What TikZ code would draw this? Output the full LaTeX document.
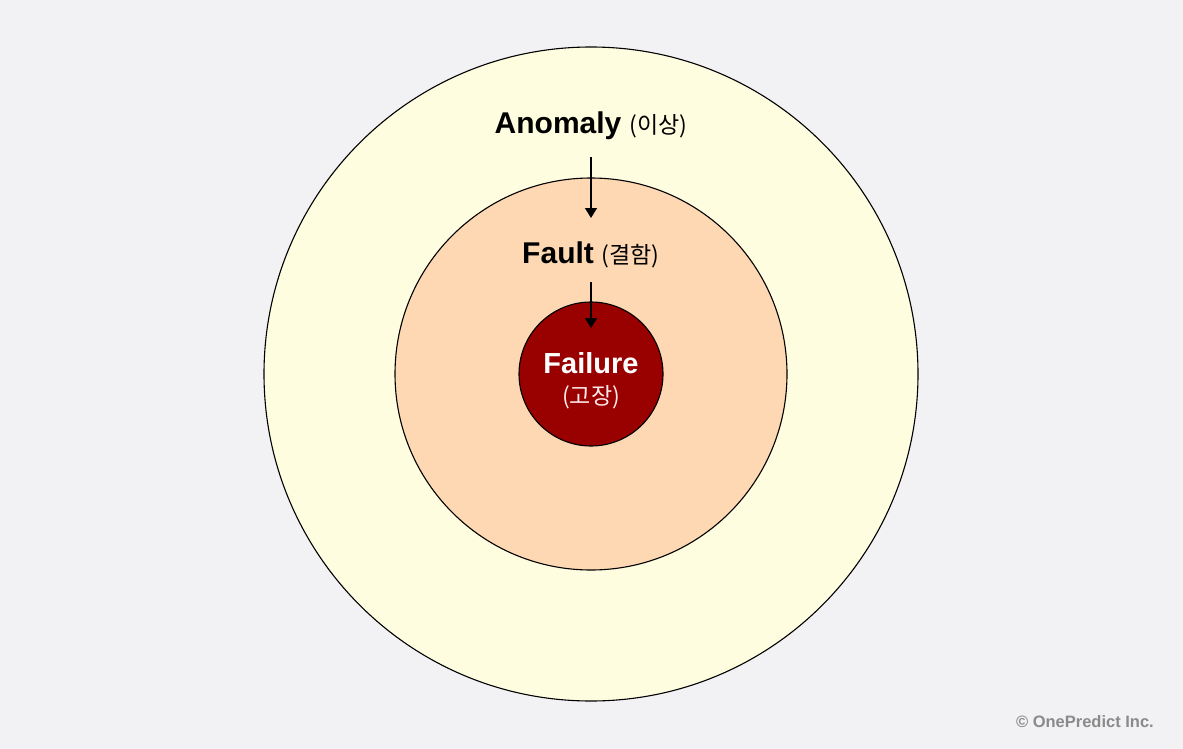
\documentclass[tikz,border=0pt]{standalone}
\usepackage{fontspec}
\setmainfont{Liberation Sans}
\newfontfamily\kr{Noto Sans CJK KR}
\usetikzlibrary{arrows.meta}
\definecolor{bgc}{HTML}{F2F2F4}
\definecolor{outerc}{HTML}{FFFDE0}
\definecolor{midc}{HTML}{FDD8B3}
\definecolor{innerc}{HTML}{990000}
\definecolor{copyc}{HTML}{8A8A8A}
\tikzset{
  ring/.style={circle, draw=black, line width=1.1pt, inner sep=0pt, outer sep=0pt},
  biglabel/.style={anchor=base, inner sep=0pt, font=\fontsize{30}{36}\selectfont\bfseries},
  krlabel/.style={font=\kr\fontsize{23}{27}\selectfont},
  flow/.style={line width=1.4pt, -{Triangle[width=12pt,length=10pt]}},
}
\begin{document}
\begin{tikzpicture}[x=1pt,y=-1pt]
\fill[bgc] (0,0) rectangle (1183,749);
\useasboundingbox (0,0) rectangle (1183,749);

\node[ring, fill=outerc, minimum size=654pt] (outer) at (591,374) {};
\node[ring, fill=midc, minimum size=392pt] (mid) at (591,374) {};
\node[ring, fill=innerc, minimum size=144pt] (inner) at (591,374) {};

\node[biglabel] (anomaly) at (591,134) {Anomaly\hspace{8pt}{\kr\mdseries\fontsize{23}{27}\selectfont(이상)}};
\node[biglabel] (fault) at (591,263) {Fault\hspace{8pt}{\kr\mdseries\fontsize{23}{27}\selectfont(결함)}};
\node[biglabel, font=\fontsize{29}{34}\selectfont\bfseries, text=white] (failure) at (591,373) {Failure};
\node[anchor=base, inner sep=0pt, krlabel, text=white!92!red] (gojang) at (591,404) {(고장)};

\coordinate (a1s) at (591,157);
\coordinate (a1e) at (591,218);
\coordinate (a2s) at (591,282);
\coordinate (a2e) at (591,328);
\draw[flow] (a1s) -- (a1e);
\draw[flow] (a2s) -- (a2e);

\node[anchor=base east, inner sep=0pt, text=copyc, font=\fontsize{16.5}{20}\selectfont\bfseries] (copy) at (1154,727) {© OnePredict Inc.};
\end{tikzpicture}
\end{document}
